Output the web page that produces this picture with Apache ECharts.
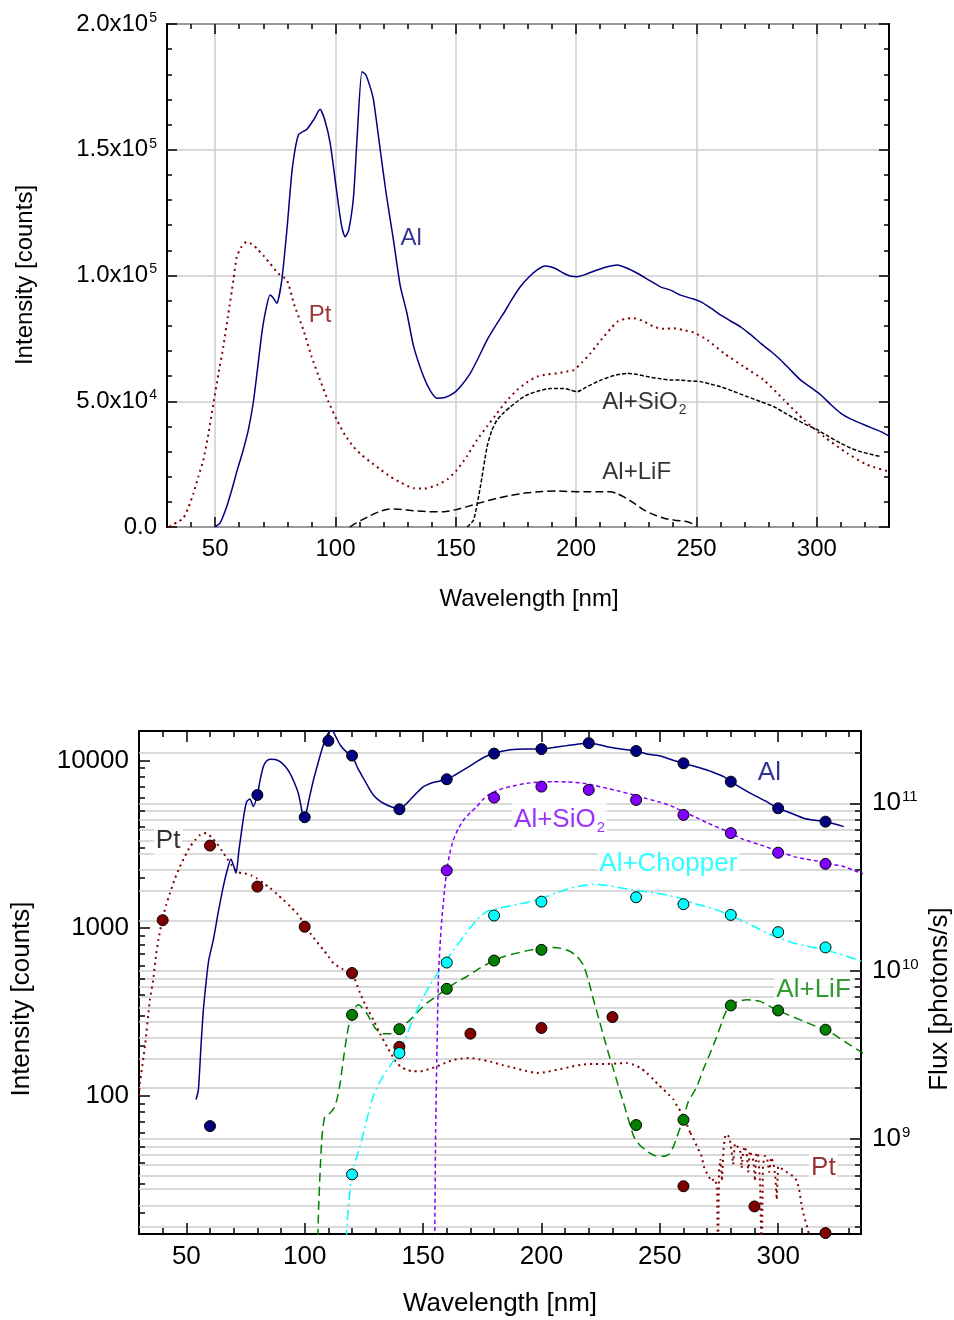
<!DOCTYPE html>
<html>
<head>
<meta charset="utf-8">
<script src="https://cdn.jsdelivr.net/npm/echarts@6/dist/echarts.min.js"></script>
<style>
  html, body { margin: 0; padding: 0; background: #fff; }
  #chart { width: 954px; height: 1320px; }
</style>
</head>
<body>
<div id="chart"></div>
<script>
const FONT = '"Liberation Sans", Arial, Helvetica, sans-serif';

// ---------- upper panel: spectra [wavelength nm, counts] ----------
const topAl = [[50,0],[52,1500],[54.8,8100],[57,15000],[59,22000],[61.5,30000],[63.8,38600],[65.9,49800],[67.5,62000],[69.4,77000],[71,86000],[72.8,92200],[74.2,91000],[75.6,89000],[77.7,98200],[80,120000],[82,142000],[84.6,155900],[88.1,158100],[91,162000],[93.6,166100],[95.5,162000],[97.8,152600],[100.6,132700],[102.5,120000],[104,115400],[105.5,118000],[107.5,131300],[109,155000],[111,181000],[112.5,180000],[114.4,175000],[115.8,169800],[118.6,150000],[121,133000],[124.1,114100],[126.9,96000],[129.7,85000],[132.5,71700],[136.6,59800],[139.5,54000],[142.2,51200],[145.5,51500],[149.1,53200],[152.5,56500],[156,61100],[159.5,67500],[163,74400],[166.5,80000],[169.9,85000],[173,90000],[176.8,95500],[180,99000],[183.8,102200],[187,103800],[189.3,103500],[192,102500],[194.8,100900],[197.5,99800],[200.4,99500],[204,100500],[208.7,102200],[213,103500],[217.1,104200],[221,103000],[225.4,100900],[230,98300],[235,95500],[239.2,94200],[243.4,92200],[247.5,91000],[251.7,89600],[256,87000],[260,84300],[264,82000],[268.3,79600],[272.5,76500],[276.7,73000],[281,69800],[285,66400],[289,62500],[293.3,58400],[297.5,55500],[301.7,52500],[306,48500],[310,45200],[314,43000],[318.3,41200],[322.5,39500],[326.6,37900],[330,36200]];
const topPt = [[31,0],[32,800],[34.5,2000],[36.8,3500],[39,8000],[41,13400],[43,20000],[45.1,26600],[47.2,37000],[49.3,49200],[51.3,60500],[53.4,71700],[55.5,85000],[57.6,98200],[59,107500],[61,111500],[63.1,113400],[65.2,112500],[67.3,110800],[70,108000],[72.8,104800],[76,101000],[79.8,98200],[83,88000],[86.7,78300],[90,68000],[93.6,58400],[97,50000],[100.6,42500],[104,36500],[107.5,31900],[111,28500],[114.4,26000],[118.5,23000],[122.8,20000],[127.5,17500],[132.5,15400],[137,15300],[142.2,16700],[146.5,19000],[150.5,22700],[154.5,28000],[158.8,34600],[163,40000],[167.1,45200],[171,50000],[175.5,54500],[179.5,57500],[183.8,59800],[188,60700],[192.1,61100],[196,61800],[199,62400],[202.5,65500],[206,69100],[208.8,72500],[211.5,75700],[214.3,78800],[217.1,81600],[220.5,82800],[224,83000],[228,81800],[232.3,79600],[236.5,78800],[240.6,79000],[244.5,78300],[248.9,77300],[254.5,74400],[261.4,69100],[269.7,63700],[278,58400],[286.4,50500],[294.7,42500],[303,35900],[312.7,29300],[321,24700],[330,22000]];
const topSiO2 = [[154.7,0],[157.4,2800],[160.2,16000],[163,31900],[165,38500],[167.1,42500],[170,45500],[172.7,47800],[176,50300],[179.6,52500],[184,54000],[189.3,55100],[194.8,55100],[197.5,54500],[200.4,53800],[204,55500],[207.3,57100],[210.5,58500],[214.3,59800],[217.5,60600],[221.2,61100],[225.5,60600],[229.5,59800],[234.5,59000],[239.2,58400],[243.4,58400],[247,58100],[251.7,57800],[256,56800],[260,55800],[265.5,53900],[271.2,51800],[276.5,49900],[282.2,47800],[287,45200],[291.9,42500],[296,40500],[300.3,38600],[305,35900],[310,33300],[314,31400],[318.3,29900],[322.5,28900],[326.6,28000]];
const topLiF = [[106,0],[108.5,1500],[111,2800],[114.4,4500],[118,6000],[122.4,7200],[126,7100],[132.5,6500],[139,6100],[145,6100],[150,6900],[154.7,8100],[160,9600],[167.1,11400],[173,12600],[179.6,13600],[186,14100],[192.1,14300],[197.5,14100],[203.2,14000],[208.8,14000],[214.3,14000],[217,13300],[219.8,12000],[224,9500],[228.1,6800],[232,5000],[236.5,3500],[241,2700],[246.2,2100],[248.5,1200],[249.6,100]];

// ---------- lower panel: spectra [wavelength nm, counts] ----------
const botAl = [[54.1,95],[55.1,109],[56.2,200],[57.2,326],[58.6,515],[59.5,650],[61.4,852],[63.5,1250],[65.6,1772],[67.2,2200],[68.8,2590],[70,2350],[71,2129],[72.2,2900],[73.4,3856],[74.5,4900],[75.5,5686],[76.9,5900],[78.3,5309],[80,6234],[81.2,7700],[82.5,9193],[83.8,9900],[85.4,10170],[87.5,10150],[89.6,9847],[91.8,9200],[93.8,8395],[95.6,7400],[97.3,6379],[98.5,5300],[99.4,4590],[100.2,4700],[100.9,5075],[102.2,6200],[103.7,7656],[105.5,9500],[107.2,11560],[108.8,13500],[110.3,14800],[111.5,15200],[113,14000],[115,12380],[117.5,11300],[120,10690],[122.4,9000],[124.8,7840],[127,6900],[129,6234],[131,5850],[133.3,5563],[136.5,5300],[140,5122],[142.2,5400],[144.5,5820],[147.5,6450],[150.2,6989],[153,7300],[155.8,7482],[160,7727],[163.5,8200],[167.1,8785],[172.7,9847],[176,10500],[180,11040],[184.5,11450],[189.6,11670],[195,11700],[200,11720],[205,11950],[210.8,12270],[215,12500],[220,12660],[223.5,12500],[227.7,12100],[233.5,11700],[240,11400],[245,10900],[250.2,10640],[255,10100],[260,9625],[265,9200],[269.9,8785],[273.5,8400],[277,8013],[280,7482],[284.5,6850],[289.6,6234],[295,5700],[300,5193],[305.5,4850],[310.8,4527],[315.5,4400],[320,4323],[324,4180],[327.7,4035]];
const botSiO2 = [[154.8,8],[155.3,60],[155.8,164],[156.5,515],[157.2,800],[157.9,1121],[159,1650],[160,2207],[161.3,2800],[162.8,3361],[165,3950],[167.1,4423],[170,4900],[172.7,5309],[175,5800],[177.6,6234],[180.5,6550],[184,6832],[189,7100],[193.9,7317],[200,7450],[205.1,7482],[211,7450],[217.8,7317],[222.5,7100],[227.7,6832],[233,6550],[238.9,6234],[244,5950],[250,5650],[255,5350],[260,4950],[265,4600],[270,4250],[278,3800],[285,3400],[292.5,3140],[300,2880],[306.6,2673],[312,2580],[317.9,2496],[322.5,2410],[327.7,2331],[333.3,2176],[336,2110]];
const botChopper = [[116.8,8],[118,18],[119,26],[120,34.7],[121.7,42],[123.4,50],[126,70],[129,100],[131.8,122],[134.7,142],[137.3,160],[140,180],[142.2,215],[144.5,259],[147.3,320],[150.2,391],[153,460],[155.8,530],[158,590],[160,648],[163.5,760],[167.1,892],[170,1010],[172.7,1121],[175,1200],[177,1257],[181,1310],[185.4,1346],[189.5,1385],[193.9,1422],[198,1480],[202.3,1544],[206.5,1630],[210.8,1709],[216,1780],[222,1830],[226,1810],[230.5,1772],[234.5,1730],[238.9,1692],[243.5,1655],[248.8,1617],[253.5,1570],[258.7,1510],[264.3,1410],[269,1350],[274.2,1286],[279,1200],[284,1121],[289.5,1030],[295.3,934],[301,870],[306.6,815],[311.5,785],[316.4,760],[320.5,735],[324.9,710],[329,680],[333.3,648],[336,630]];
const botLiF = [[105.2,8],[105.8,20],[106.5,35],[107.2,54.8],[108,70],[108.6,75.4],[110.7,79],[112.5,85],[113.6,94.9],[115,120],[116.3,164],[117.4,210],[118.5,259],[120,304],[121,330],[122.4,349],[123.5,345],[126.2,311],[128,280],[129.7,254],[131.5,240],[133.3,235],[137.5,235],[140,250],[142.2,266],[144.5,284],[148,320],[151.6,357],[156,395],[160,435],[164,475],[168.5,515],[174,578],[180,641],[184.5,680],[189.6,710],[195,740],[200,760],[205.1,768],[209,755],[212.2,726],[215,680],[217.8,600],[220,480],[222,374],[224.2,290],[226.3,226],[228.4,178],[230.5,143],[232.6,113],[234.7,90.6],[236.8,72],[239,57.3],[241.5,51],[244.6,46.7],[248,44],[251.6,43.6],[254,45],[255.8,50],[257.8,60],[259.8,72],[262,92],[264.3,105],[265.7,114],[268.5,145],[271.3,180],[273.5,215],[275.6,259],[277,295],[278.4,326],[280,346],[283,365],[286.8,374],[289.5,372],[292.5,366],[296,345],[300,323],[304.5,303],[309.4,284],[314.5,265],[320,248],[324.5,228],[329.1,206],[334.7,184],[336,180]];
const botPt = [[30,100],[30.4,119],[32.5,197],[34.6,374],[36,492],[37.2,690],[38.2,852],[39.8,1116],[41.5,1380],[43.1,1618],[45.2,1980],[47.3,2331],[49.5,2700],[51.6,3066],[53.7,3350],[55.8,3601],[57.5,3690],[58.6,3685],[60.7,3480],[62.8,3213],[65,2900],[67.1,2615],[69.2,2370],[71.3,2176],[73.4,2130],[75.5,2109],[77.6,2060],[79.7,1986],[82.5,1860],[85.4,1733],[88.2,1600],[91,1475],[93.8,1350],[96.7,1229],[99.5,1080],[102.3,934],[105.1,830],[107.9,743],[110,680],[112.1,619],[116,570],[120,535],[123.4,410],[126,340],[129,284],[131.8,235],[134.7,197],[136.8,175],[138.9,157],[141,148],[143.1,143],[145.9,140],[148.8,140],[152.3,144],[155.8,150],[159.3,157],[162.8,164],[166.4,167],[169.9,168],[174,165],[178.4,160],[183.3,153],[188.2,147],[193.2,141],[198.1,137],[202.3,139],[206.5,143],[211.5,148],[216.4,153],[222,155],[227.7,155],[232,156],[236.1,157],[239,153],[241.7,147],[244.5,137],[247.4,125],[249.5,116],[251.6,109],[253.7,102],[255.8,95],[257.3,87],[259,80],[261,70],[262.9,60]];
const botPtTail = [[262.9,60],[264.6,54],[266,49],[267.6,44],[268.8,37],[270.7,33],[271.7,31],[273.1,32],[274.2,29],[274.6,10],[275,36],[275.6,42],[276.3,31],[277,50],[277.7,58],[278.6,59],[279.5,56],[280.3,47],[281,39],[281.7,52],[282.5,52],[283.3,49],[284.1,46],[284.6,37],[285.2,47],[286,50],[286.8,44],[287.4,35],[288,47],[288.8,48],[289.6,41],[290.2,31],[290.8,46],[291.6,44],[292.4,30],[293,10],[293.6,39],[294.4,44],[295.4,42],[296.2,35],[297,43],[298,40],[298.8,33],[299.4,24],[300,38],[301.2,37],[302.4,36],[303.8,35],[305.2,34],[306.6,33],[308,31],[309,27],[310,22],[311,19],[312,17],[313,15],[313.7,10]];

// ---------- lower panel: measured points ----------
const alWl = [60,80,100,110,120,140,160,180,200,220,240,260,280,300,320];
const alCounts = [66,6230,4590,13100,10700,5120,7730,11000,11700,12700,11400,9630,7480,5190,4320];
const sio2Wl = [160,180,200,220,240,260,280,300,320];
const sio2Counts = [2210,6010,6990,6680,5820,4740,3690,2820,2420];
const chopWl = [120,140,160,180,200,240,260,280,300,320];
const chopCounts = [34,180,624,1190,1440,1530,1390,1200,947,768];
const lifWl = [120,140,160,180,200,240,260,280,300,320];
const lifCounts = [304,250,435,641,743,67,72,346,323,248];
const ptWl = [40,60,80,100,120,140,170,200,230,260,290,320];
const ptCounts = [1116,3110,1770,1020,540,196,235,254,295,28.9,21.9,15.2];

// photons/s per detector count (right-hand axis)
const FLUX_PER_COUNT = 1.8e7;

// ---------- tick values ----------
const topMajorX = [50,100,150,200,250,300];
const topMinorX = [30,40,60,70,80,90,110,120,130,140,160,170,180,190,210,220,230,240,260,270,280,290,310,320,330];
const topMinorY = [10000,20000,30000,40000,60000,70000,80000,90000,110000,120000,130000,140000,160000,170000,180000,190000];
const botMajorX = [50,100,150,200,250,300];
const botMinorX = [30,40,60,70,80,90,110,120,130,140,160,170,180,190,210,220,230,240,260,270,280,290,310,320,330];
const countMajor = [100,1000,10000];
const countMinor = [20,30,40,50,60,70,80,90,200,300,400,500,600,700,800,900,2000,3000,4000,5000,6000,7000,8000,9000];
const fluxMajor = [1e9,1e10,1e11];
const fluxAll = [3e8,4e8,5e8,6e8,7e8,8e8,9e8,1e9,2e9,3e9,4e9,5e9,6e9,7e9,8e9,9e9,1e10,2e10,3e10,4e10,5e10,6e10,7e10,8e10,9e10,1e11,2e11];

const pair = (xs, ys) => xs.map((x, i) => [x, ys[i]]);

const GRIDLINE = { color: '#cdcdcd', width: 1.5 };
const TICK = { color: '#000', width: 1.5 };

function axis(grid, position, min, max, ticks, len, more) {
  const a = {
    type: 'value', gridIndex: grid, position: position, min: min, max: max, silent: true,
    axisLine: { show: false, onZero: false },
    axisTick: { show: true, inside: true, length: len, lineStyle: TICK },
    axisLabel: { show: false },
    splitLine: { show: false },
    minorTick: { show: false }, minorSplitLine: { show: false }
  };
  if (ticks) a.axisTick.customValues = ticks;
  return Object.assign(a, more || {});
}

function sciLabel(v) {
  if (v === 0) return '{b|0.0}';
  const e = Math.floor(Math.log10(v) + 1e-9);
  const m = v / Math.pow(10, e);
  return '{b|' + m.toFixed(1) + 'x10}{s|' + e + '}';
}
function powLabel(v) {
  return '{b|10}{s|' + Math.round(Math.log10(v)) + '}';
}
function plainLabel(v) {
  return String(Math.round(v));
}

const xAxes = [
  // upper panel
  axis(0, 'bottom', 30, 330, topMajorX, 10, {
    axisLabel: { show: true, customValues: topMajorX, color: '#000', fontFamily: FONT, fontSize: 24, margin: 10 },
    splitLine: { show: true, lineStyle: GRIDLINE }
  }),
  axis(0, 'bottom', 30, 330, topMinorX, 5),
  axis(0, 'top', 30, 330, topMajorX, 10),
  axis(0, 'top', 30, 330, topMinorX, 5),
  // lower panel
  axis(1, 'bottom', 30, 335, botMajorX, 11, {
    axisLabel: { show: true, customValues: botMajorX, color: '#000', fontFamily: FONT, fontSize: 26, margin: 10 }
  }),
  axis(1, 'bottom', 30, 335, botMinorX, 6),
  axis(1, 'top', 30, 335, botMajorX, 11),
  axis(1, 'top', 30, 335, botMinorX, 6)
];

const yAxes = [
  // upper panel (linear counts)
  axis(0, 'left', 0, 200000, null, 10, {
    interval: 50000,
    axisLabel: { show: true, formatter: sciLabel, margin: 10, fontFamily: FONT,
      rich: { b: { fontSize: 24, color: '#000', fontFamily: FONT }, s: { fontSize: 14, color: '#000', fontFamily: FONT, verticalAlign: 'top', padding: [0, 0, 12, 1] } } },
    splitLine: { show: true, lineStyle: GRIDLINE }
  }),
  axis(0, 'left', 0, 200000, topMinorY, 5),
  axis(0, 'right', 0, 200000, null, 10, { interval: 50000 }),
  axis(0, 'right', 0, 200000, topMinorY, 5),
  // lower panel (log counts, log flux)
  axis(1, 'left', 15, 15000, countMajor, 11, {
    type: 'log', logBase: 10,
    axisLabel: { show: true, customValues: countMajor, formatter: plainLabel, color: '#000', fontFamily: FONT, fontSize: 26, margin: 10 }
  }),
  axis(1, 'left', 15, 15000, countMinor, 6, { type: 'log', logBase: 10 }),
  axis(1, 'right', 15 * FLUX_PER_COUNT, 15000 * FLUX_PER_COUNT, fluxMajor, 11, {
    type: 'log', logBase: 10,
    axisLabel: { show: true, customValues: fluxMajor, formatter: powLabel, margin: 11, fontFamily: FONT,
      rich: { b: { fontSize: 26, color: '#000', fontFamily: FONT }, s: { fontSize: 15, color: '#000', fontFamily: FONT, verticalAlign: 'top', padding: [0, 0, 12, 1] } } }
  }),
  axis(1, 'right', 15 * FLUX_PER_COUNT, 15000 * FLUX_PER_COUNT, fluxAll, 6, {
    type: 'log', logBase: 10,
    splitLine: { show: true, lineStyle: GRIDLINE }
  })
];

function curve(name, data, xi, yi, color, type, width, smooth) {
  return {
    name: name, type: 'line', data: data, xAxisIndex: xi, yAxisIndex: yi,
    showSymbol: false, symbol: 'none', smooth: smooth || false, clip: true, silent: true,
    lineStyle: { color: color, width: width, type: type, cap: 'butt' }, z: 3, animation: false
  };
}
function points(name, data, color) {
  return {
    name: name, type: 'scatter', data: data, xAxisIndex: 4, yAxisIndex: 4,
    symbol: 'circle', symbolSize: 11, silent: true,
    itemStyle: { color: color, borderColor: '#000', borderWidth: 1, opacity: 1 }, z: 5, animation: false
  };
}
function notes(items, xi, yi, fs, subFs, bg) {
  return {
    type: 'scatter', xAxisIndex: xi, yAxisIndex: yi, symbolSize: 0, silent: true, z: 4, animation: false,
    itemStyle: { color: 'rgba(0,0,0,0)' },
    data: items.map(it => ({
      value: it.at,
      label: {
        show: true, position: 'inside', formatter: it.text, align: it.align,
        color: it.color, fontFamily: FONT, fontSize: fs,
        backgroundColor: bg ? '#fff' : 'transparent', padding: bg ? [1, 2, 1, 2] : 0,
        rich: {
          sub: { fontSize: subFs, color: it.color, fontFamily: FONT, verticalAlign: 'bottom', padding: [16, 0, 0, 1] }
        }
      }
    }))
  };
}

const topNotes = [
  { at: [131.5, 114900], text: 'Al', color: '#000080', align: 'center' },
  { at: [93.6, 84300], text: 'Pt', color: '#800000', align: 'center' },
  { at: [210.9, 49500], text: 'Al+SiO{sub|2}', color: '#000', align: 'left' },
  { at: [210.9, 21900], text: 'Al+LiF', color: '#000', align: 'left' }
];
const botNotes = [
  { at: [296.3, 8430], text: 'Al', color: '#000080', align: 'center' },
  { at: [187.6, 4450], text: 'Al+SiO{sub|2}', color: '#8000ff', align: 'left' },
  { at: [223.6, 2418], text: 'Al+Chopper', color: '#00ffff', align: 'left' },
  { at: [298.4, 429], text: 'Al+LiF', color: '#008000', align: 'left' },
  { at: [42.3, 3316], text: 'Pt', color: '#000', align: 'center' },
  { at: [319.1, 37.3], text: 'Pt', color: '#800000', align: 'center' }
];

const series = [
  curve('Pt', topPt, 0, 0, '#800000', [2, 4], 2, 0.2),
  curve('Al+LiF', topLiF, 0, 0, '#000', [8, 4], 1.5, 0.2),
  curve('Al+SiO2', topSiO2, 0, 0, '#000', [4, 2], 1.5, 0.2),
  curve('Al', topAl, 0, 0, '#000080', 'solid', 1.5, 0.2),
  notes(topNotes, 0, 0, 24, 14, false),

  curve('Pt', botPt, 4, 4, '#800000', [2, 4], 2, 0.2),
  curve('Pt tail', botPtTail, 4, 4, '#800000', [2, 4], 2),
  curve('Al+LiF', botLiF, 4, 4, '#008000', [9, 5], 1.5, 0.2),
  curve('Al+Chopper', botChopper, 4, 4, '#00ffff', [10, 4, 2, 4], 1.5, 0.2),
  curve('Al+SiO2', botSiO2, 4, 4, '#8000ff', [4, 3], 1.5, 0.2),
  curve('Al', botAl, 4, 4, '#000080', 'solid', 1.5, 0.2),
  points('Pt', pair(ptWl, ptCounts), '#800000'),
  points('Al', pair(alWl, alCounts), '#000080'),
  points('Al+SiO2', pair(sio2Wl, sio2Counts), '#8000ff'),
  points('Al+LiF', pair(lifWl, lifCounts), '#008000'),
  points('Al+Chopper', pair(chopWl, chopCounts), '#00ffff'),
  notes(botNotes, 4, 4, 26, 15, true)
];

const titleFont = (px) => px + 'px ' + FONT;
const graphic = [
  { type: 'text', x: 25, y: 275, rotation: Math.PI / 2, silent: true,
    style: { text: 'Intensity [counts]', font: titleFont(24), fill: '#000', align: 'center', verticalAlign: 'middle' } },
  { type: 'text', x: 529, y: 599, silent: true,
    style: { text: 'Wavelength [nm]', font: titleFont(24), fill: '#000', align: 'center', verticalAlign: 'middle' } },
  { type: 'text', x: 22, y: 999, rotation: Math.PI / 2, silent: true,
    style: { text: 'Intensity [counts]', font: titleFont(26), fill: '#000', align: 'center', verticalAlign: 'middle' } },
  { type: 'text', x: 500, y: 1304, silent: true,
    style: { text: 'Wavelength [nm]', font: titleFont(26), fill: '#000', align: 'center', verticalAlign: 'middle' } },
  { type: 'text', x: 940, y: 999, rotation: Math.PI / 2, silent: true,
    style: { text: 'Flux [photons/s]', font: titleFont(26), fill: '#000', align: 'center', verticalAlign: 'middle' } }
];

const chart = echarts.init(document.getElementById('chart'), null, { renderer: 'canvas' });
chart.setOption({
  backgroundColor: '#fff',
  animation: false,
  textStyle: { fontFamily: FONT },
  grid: [
    { left: 167, top: 24, width: 722, height: 503, show: true, borderColor: '#000', borderWidth: 2, backgroundColor: 'transparent', containLabel: false, outerBoundsMode: 'none' },
    { left: 139, top: 731, width: 722, height: 503, show: true, borderColor: '#000', borderWidth: 2, backgroundColor: 'transparent', containLabel: false, outerBoundsMode: 'none' }
  ],
  xAxis: xAxes,
  yAxis: yAxes,
  series: series,
  graphic: graphic
});
</script>
</body>
</html>
